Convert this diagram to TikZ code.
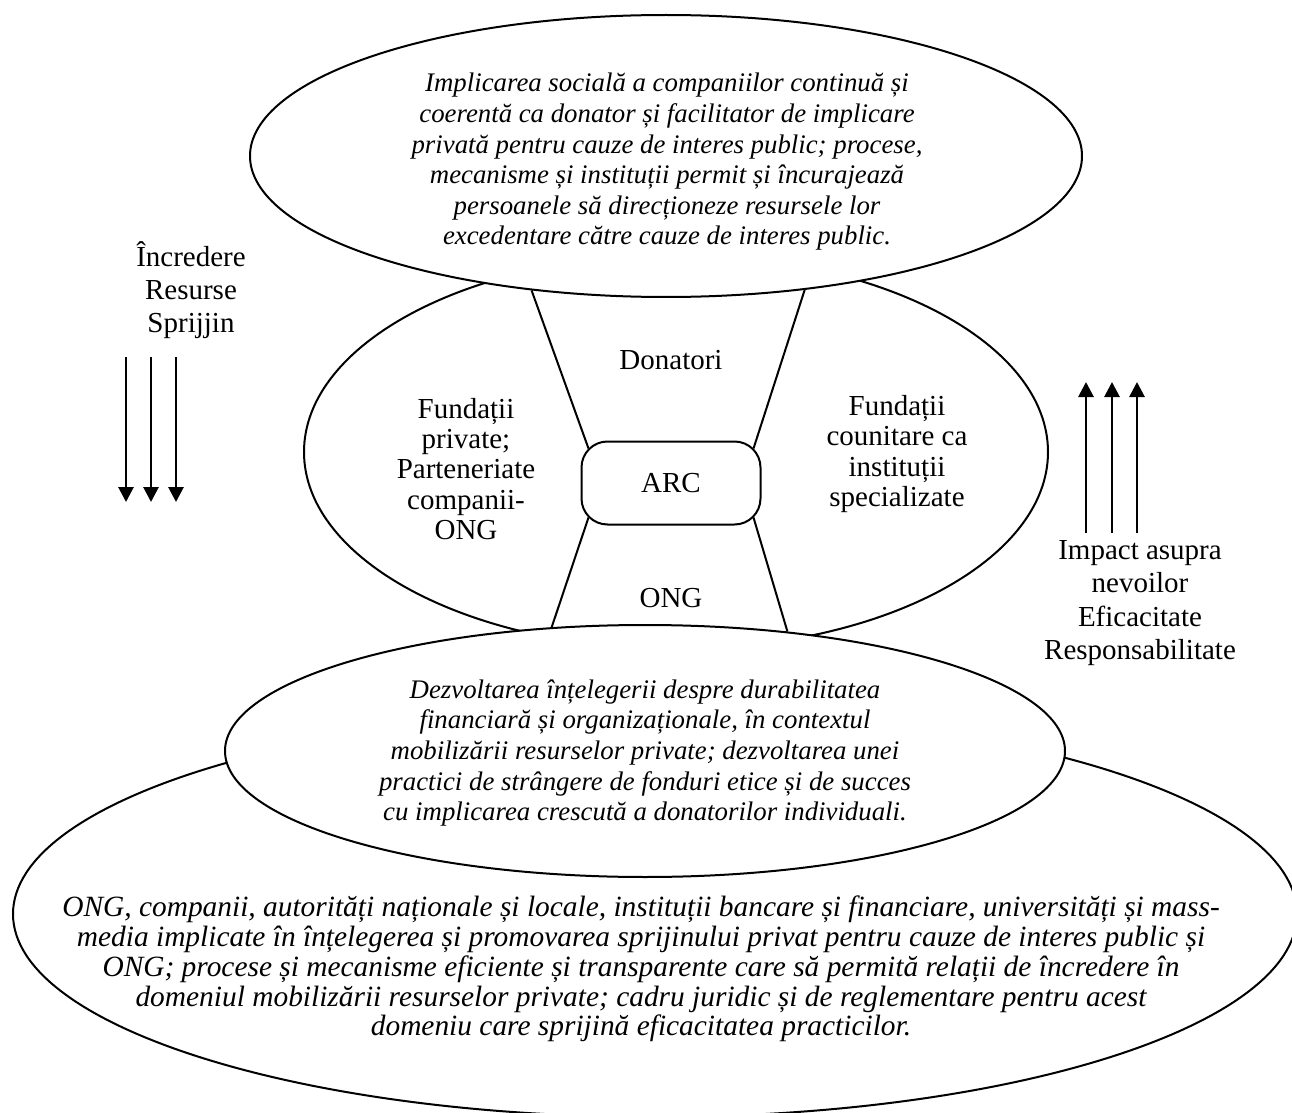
\documentclass[tikz,border=0pt]{standalone}
\usepackage{fontspec}
\setmainfont{Liberation Serif}
\usetikzlibrary{shapes.geometric,arrows.meta,positioning}
\newcommand{\Oval}[2][]{\node[oval, #1] (#2) {};}

\begin{document}
\begin{tikzpicture}[x=0.5pt, y=-0.5pt,
	oval/.style={ellipse, draw, fill=white, line width=1pt, inner sep=0pt},
	note/.style={align=center, inner sep=0pt, font=\fontsize{13.4}{15.3}\selectfont\itshape},
	tag/.style={align=center, inner sep=0pt, font=\fontsize{14.5}{16.6}\selectfont},
	spoke/.style={line width=1pt},
	flow/.style={line width=1.4pt, -{Triangle[width=7.5pt,length=7.5pt]}}]
\useasboundingbox (0,0) rectangle (1292,1113);

	\Oval[at={(676,452)}, minimum width=372pt, minimum height=197pt]{mid}
	\Oval[at={(655,914)}, minimum width=642pt, minimum height=203pt]{big}
	\Oval[at={(645,751)}, minimum width=420pt, minimum height=126pt]{low}
	\Oval[at={(666,156)}, minimum width=416pt, minimum height=141pt]{top}
	
	\node[note] (toptext) at (667,162) {Implicarea socială a companiilor continuă și\\
		coerentă ca donator și facilitator de implicare\\
		privată pentru cauze de interes public; procese,\\
		mecanisme și instituții permit și încurajează\\
		persoanele să direcționeze resursele lor\\
		excedentare către cauze de interes public.};
	\node[note] (lowtext) at (645,753) {Dezvoltarea înțelegerii despre durabilitatea\\
		financiară și organizaționale, în contextul\\
		mobilizării resurselor private; dezvoltarea unei\\
		practici de strângere de fonduri etice și de succes\\
		cu implicarea crescută a donatorilor individuali.};
	\node[note, font=\fontsize{14.7}{14.9}\selectfont\itshape] (bigtext) at (641,969) {ONG, companii, autorități naționale și locale, instituții bancare și financiare, universități și mass-\\
		media implicate în înțelegerea și promovarea sprijinului privat pentru cauze de interes public și\\
		ONG; procese și mecanisme eficiente și transparente care să permită relații de încredere în\\
		domeniul mobilizării resurselor private; cadru juridic și de reglementare pentru acest\\
		domeniu care sprijină eficacitatea practicilor.};
	
	\node[tag, draw, fill=white, line width=1pt, rounded corners=13pt,
		minimum width=89.5pt, minimum height=41.5pt] (arc) at (671,483) {ARC};
	\node[tag, above = 35pt of arc] (donatori) {Donatori};
	\node[tag, below = 31pt of arc] (ong) {ONG};
	\node[tag, font=\fontsize{14.5}{15.2}\selectfont] (fundpriv) at (466,469) {Fundații\\private;\\Parteneriate\\companii-\\ONG};
	\node[tag, font=\fontsize{14.5}{15.2}\selectfont] (fundcom) at (897,454) {Fundații\\counitare ca\\instituții\\specializate};
	
	\node[tag] (incredere) at (191,290) {Încredere\\Resurse\\Sprijjin};
	\node[tag] (impact) at (1140,603) {Impact asupra\\nevoilor\\Eficacitate\\Responsabilitate};
	
	\coordinate (arcNW) at ([shift={(8,8)}]arc.north west);
	\coordinate (arcNE) at ([shift={(-8,8)}]arc.north east);
	\coordinate (arcSW) at ([shift={(8,-8)}]arc.south west);
	\coordinate (arcSE) at ([shift={(-8,-8)}]arc.south east);
	
	\draw[spoke] (top.225) -- (arcNW);
	\draw[spoke] (top.316) -- (arcNE);
	\draw[spoke] (low.127) -- (arcSW);
	\draw[spoke] (low.40) -- (arcSE);
	
	\coordinate (down1a) at (126,357);
	\coordinate (down1b) at (126,502);
	\coordinate (down2a) at (151,357);
	\coordinate (down2b) at (151,502);
	\coordinate (down3a) at (176,357);
	\coordinate (down3b) at (176,502);
	
	\coordinate (up1a) at (1086,533);
	\coordinate (up1b) at (1086,382);
	\coordinate (up2a) at (1112,533);
	\coordinate (up2b) at (1112,382);
	\coordinate (up3a) at (1137,533);
	\coordinate (up3b) at (1137,382);
	
	\draw[flow] (down1a) -- (down1b);
	\draw[flow] (down2a) -- (down2b);
	\draw[flow] (down3a) -- (down3b);
	
	\draw[flow] (up1a) -- (up1b);
	\draw[flow] (up2a) -- (up2b);
	\draw[flow] (up3a) -- (up3b);

\end{tikzpicture}
\end{document}
